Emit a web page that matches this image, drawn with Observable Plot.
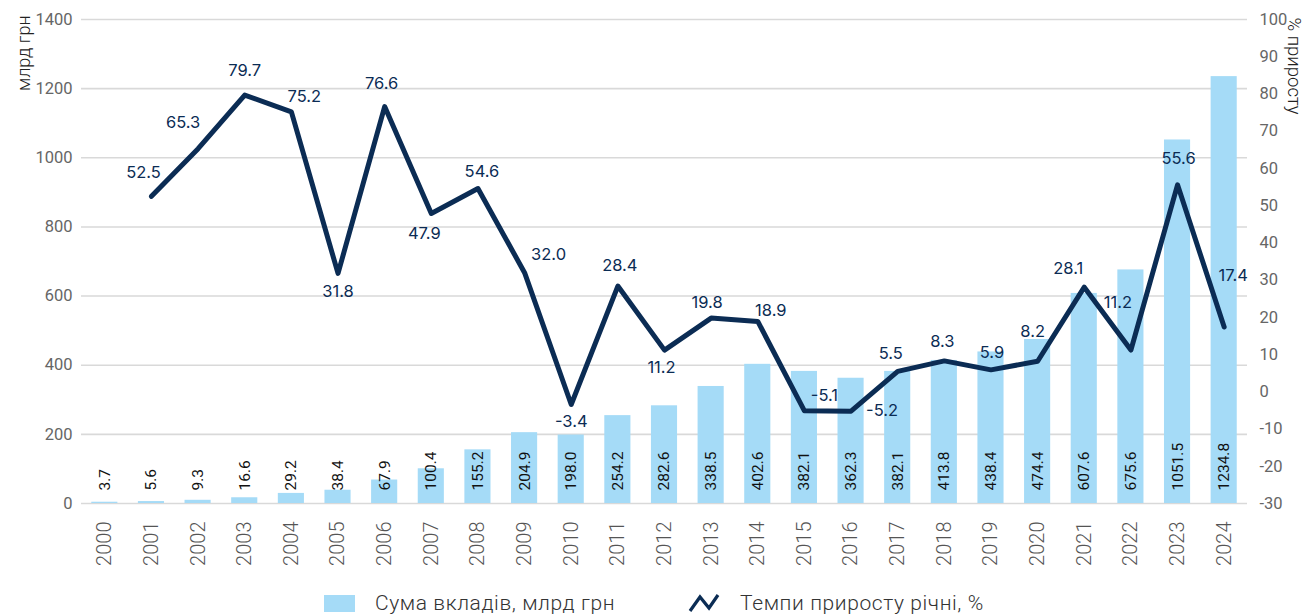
<!DOCTYPE html>
<html>
<head>
<meta charset="utf-8">
<script src="https://cdn.jsdelivr.net/npm/d3@7"></script>
<script src="https://cdn.jsdelivr.net/npm/@observablehq/plot@0.6"></script>
<style>
  html, body { margin: 0; padding: 0; background: #fff; }
  #wrap { position: relative; width: 1310px; height: 614px; overflow: hidden; }
  #legend { position: absolute; left: 0; top: 589px; width: 1310px; height: 28px; display: flex; align-items: center;
            font-family: Roboto, "Noto Sans", sans-serif; font-weight: 300; font-size: 21px; letter-spacing: 0.6px; color: #333; }
</style>
</head>
<body>
<div id="wrap">
  <div id="chart"></div>
  <div id="legend">
    <span style="display:inline-block;margin-left:324px;width:31px;height:17px;background:#a5dbf7"></span>
    <span style="margin-left:20px">Сума вкладів, млрд грн</span>
    <svg width="32" height="22" style="margin-left:73px" viewBox="0 0 32 22">
      <polyline points="2,19 12,5 21,16 30,3" fill="none" stroke="#0b2c54" stroke-width="3.2" stroke-linejoin="miter"/>
    </svg>
    <span style="margin-left:20px">Темпи приросту річні, %</span>
  </div>
</div>
<script>
// ---- data ----
const years = [2000,2001,2002,2003,2004,2005,2006,2007,2008,2009,2010,2011,2012,2013,2014,2015,2016,2017,2018,2019,2020,2021,2022,2023,2024];
const deposits = [3.7,5.6,9.3,16.6,29.2,38.4,67.9,100.4,155.2,204.9,198.0,254.2,282.6,338.5,402.6,382.1,362.3,382.1,413.8,438.4,474.4,607.6,675.6,1051.5,1234.8];
const growth = [null,52.5,65.3,79.7,75.2,31.8,76.6,47.9,54.6,32.0,-3.4,28.4,11.2,19.8,18.9,-5.1,-5.2,5.5,8.3,5.9,8.2,28.1,11.2,55.6,17.4];
const leftTicks = [0,200,400,600,800,1000,1200,1400];
const rightTicks = [-30,-20,-10,0,10,20,30,40,50,60,70,80,90,100];

// ---- label placement (styling, pixels) ----
const growthLabelShift = {
  2001:[-8,-24], 2002:[-15,-26], 2003:[0,-24], 2004:[13,-15], 2005:[0,18], 2006:[-3,-23],
  2007:[-7,20], 2008:[4,-17], 2009:[24,-18], 2010:[0,17], 2011:[2,-20], 2012:[-3,18],
  2013:[-4,-15], 2014:[13,-11], 2015:[20,-15], 2016:[31,0], 2017:[-7,-18], 2018:[-2,-19],
  2019:[1,-17], 2020:[-5,-30], 2021:[-16,-18], 2022:[-13,-47], 2023:[1,-26], 2024:[9,-51]
};

const leftMin = 0, leftMax = 1400, pctMin = -30, pctMax = 100;
const toLeft = p => (p - pctMin) / (pctMax - pctMin) * (leftMax - leftMin) + leftMin;
const fromLeft = v => (v - leftMin) / (leftMax - leftMin) * (pctMax - pctMin) + pctMin;

const table = years.map((y, i) => ({year: y, deposit: deposits[i], growth: growth[i]}));
const lineData = table.filter(d => d.growth != null);

const lineColor = "#0b2c54";
const barColor = "#a5dbf7";
const labelFont = "Inter, 'Noto Sans', sans-serif";

const growthLabels = lineData.map(d => Plot.text([d], {
  x: "year", y: d => toLeft(d.growth), text: d => d.growth.toFixed(1),
  dx: growthLabelShift[d.year][0], dy: growthLabelShift[d.year][1],
  fill: lineColor, fontSize: 16.5, fontFamily: labelFont
}));

const chart = Plot.plot({
  width: 1310,
  height: 585,
  marginLeft: 81,
  marginRight: 63,
  marginTop: 19,
  marginBottom: 82,
  style: {fontFamily: "Roboto, 'Noto Sans', sans-serif", background: "white"},
  x: {type: "band", domain: years, paddingInner: 0.44, paddingOuter: 0.22, round: false},
  y: {domain: [leftMin, leftMax], nice: false},
  marks: [
    Plot.gridY(leftTicks, {stroke: "#d9d9d9", strokeOpacity: 1, strokeWidth: 1.6}),
    Plot.barY(table, {x: "year", y: "deposit", fill: barColor}),
    Plot.text(table, {x: "year", y: 0, text: d => d.deposit.toFixed(1), rotate: -90, textAnchor: "start",
      dy: -13, fill: "#111", fontSize: 15.5, fontFamily: "Roboto, sans-serif"}),
    Plot.line(lineData, {x: "year", y: d => toLeft(d.growth), stroke: lineColor, strokeWidth: 5,
      strokeLinecap: "round", strokeLinejoin: "round"}),
    ...growthLabels,
    Plot.axisX({tickSize: 0, tickPadding: 18, tickRotate: -90, fontSize: 20, fill: "#555", fontWeight: 300, label: null, tickFormat: d => String(d)}),
    Plot.axisY(leftTicks, {anchor: "left", tickSize: 0, tickPadding: 9, fontSize: 16.5, fill: "#666", label: null, tickFormat: d => String(d)}),
    Plot.axisY(rightTicks.map(toLeft), {anchor: "right", tickSize: 0, tickPadding: 12, fontSize: 16.5, fill: "#666",
      label: null, tickFormat: v => String(Math.round(fromLeft(v)))}),
    Plot.text(["млрд грн"], {frameAnchor: "top-left", dx: -64, dy: -4, rotate: -90, textAnchor: "end",
      fontSize: 18, fill: "#222", fontFamily: "Roboto, sans-serif", fontWeight: 300}),
    Plot.text(["% приросту"], {frameAnchor: "top-right", dx: 54, dy: -2, rotate: 90, textAnchor: "start",
      fontSize: 18.5, fill: "#222", fontFamily: "Roboto, sans-serif", fontWeight: 300})
  ]
});
document.getElementById("chart").appendChild(chart);
</script>
</body>
</html>
